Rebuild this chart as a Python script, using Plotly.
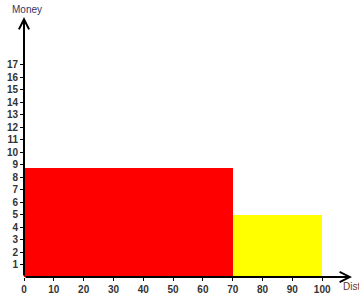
import plotly.graph_objects as go

# Data
bin_edges = [0, 70, 100]
heights = [8.7, 5.0]
bar_colors = ["#ff0000", "#ffff00"]
x_ticks = [0, 10, 20, 30, 40, 50, 60, 70, 80, 90, 100]
y_ticks = list(range(1, 18))
x_title = "Distance"
y_title = "Money"

centers = [(a + b) / 2 for a, b in zip(bin_edges[:-1], bin_edges[1:])]
widths = [b - a for a, b in zip(bin_edges[:-1], bin_edges[1:])]

W, H = 359, 294
L, R, T, B = 24, 7, 17, 17
pw = W - L - R
ph = H - T - B

fig = go.Figure()
fig.add_trace(go.Bar(
    x=centers, y=heights, width=widths,
    marker=dict(color=bar_colors, line=dict(width=0)),
    hoverinfo="skip",
))

font = dict(family="Arial, Liberation Sans, sans-serif", size=10, color="#333333", weight="bold")

fig.update_layout(
    width=W, height=H,
    margin=dict(l=L, r=R, t=T, b=B, autoexpand=False),
    paper_bgcolor="white", plot_bgcolor="white",
    showlegend=False,
    font=dict(family="Arial, Liberation Sans, sans-serif", size=10, color="#333333"),
    bargap=0,
    xaxis=dict(range=[0, 110], tickvals=x_ticks, ticktext=[str(v) for v in x_ticks],
               ticks="outside", ticklen=3, tickcolor="black", tickwidth=1,
               showgrid=False, zeroline=False, showline=False, tickfont=font,
               automargin=False),
    yaxis=dict(range=[0, 20.8], tickvals=y_ticks, ticktext=[str(v) for v in y_ticks],
               ticks="outside", ticklen=3, tickcolor="black", tickwidth=1,
               showgrid=False, zeroline=False, showline=False, tickfont=font,
               automargin=False),
)

# Axis arrows
fig.add_annotation(x=110, y=0, ax=0, ay=0, xref="x", yref="y", axref="x", ayref="y",
                   text="", showarrow=True, arrowhead=5, arrowsize=1, arrowwidth=2,
                   arrowcolor="black", standoff=0, startstandoff=0)
fig.add_annotation(x=0, y=20.8, ax=0, ay=0, xref="x", yref="y", axref="x", ayref="y",
                   text="", showarrow=True, arrowhead=5, arrowsize=1, arrowwidth=2,
                   arrowcolor="black", standoff=0, startstandoff=0)

# Axis titles (window pixel positions converted to paper coordinates)
def px_x(px):
    return (px - L) / pw

def px_y(py):
    return (H - B - py) / ph

fig.add_annotation(x=px_x(11), y=px_y(3), xref="paper", yref="paper",
                   xanchor="left", yanchor="top", text=y_title, showarrow=False,
                   borderpad=0,
                   font=dict(family="Arial, Liberation Sans, sans-serif", size=10, color="#333366"))
fig.add_annotation(x=px_x(342), y=px_y(286), xref="paper", yref="paper",
                   xanchor="left", yanchor="middle", text=x_title, showarrow=False,
                   borderpad=0,
                   font=dict(family="Arial, Liberation Sans, sans-serif", size=10, color="#663333"))

# Remove the default page margin so the figure fills the window exactly
fig.write_html("out.html",
               config={"displayModeBar": False},
               post_script="document.body.style.margin='0';document.body.style.overflow='hidden';")
